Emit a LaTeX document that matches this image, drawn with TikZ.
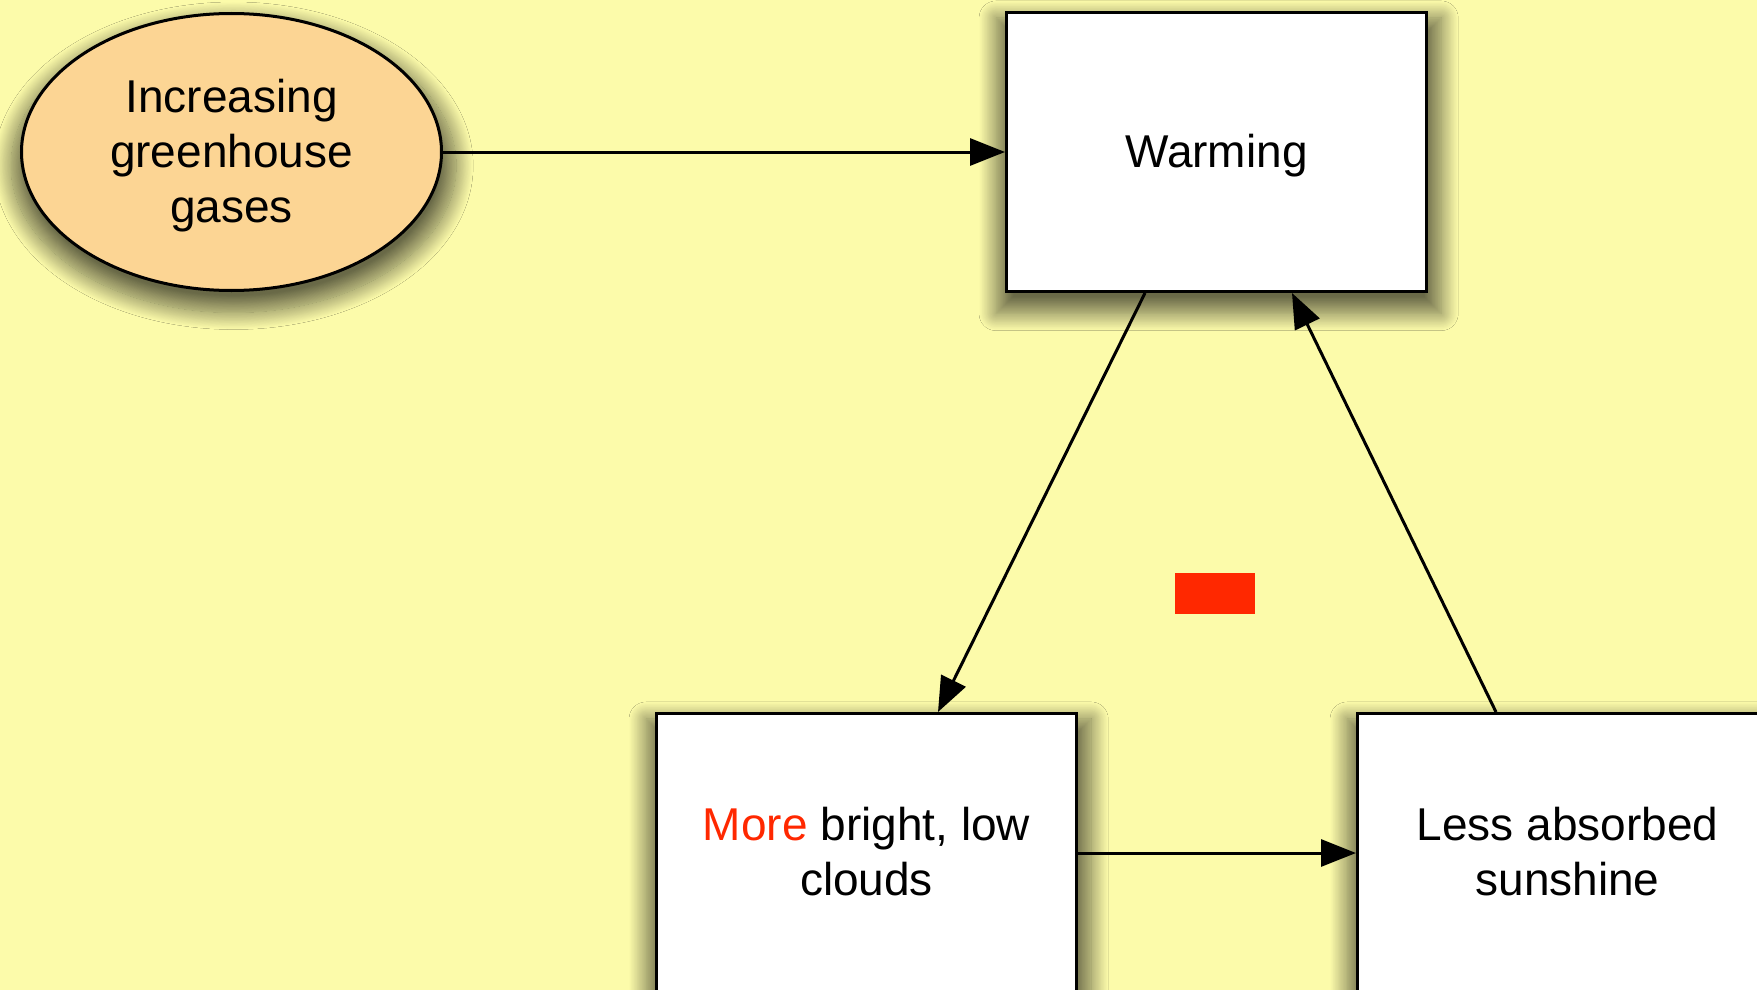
\documentclass[tikz,border=0pt]{standalone}
\usepackage{fontspec}
\setmainfont{Liberation Sans}
\usetikzlibrary{shapes.geometric,arrows.meta,shadows.blur,calc}
\definecolor{bgyellow}{RGB}{252,251,170}
\definecolor{peach}{RGB}{252,213,148}
\definecolor{minusred}{RGB}{255,40,0}
\begin{document}
\begin{tikzpicture}[x=1pt,y=-1pt,
  softshadow/.style={blur shadow={shadow xshift=2pt,shadow yshift=-13pt,shadow scale=1.06,shadow blur radius=16pt,shadow blur steps=24,shadow opacity=58}},
  stage/.style={draw=black,line width=3pt,fill=white,minimum width=420pt,minimum height=279pt,inner sep=0pt,align=center,text depth=3pt,font=\fontsize{46}{55}\selectfont,softshadow},
  source/.style={ellipse,draw=black,line width=3pt,fill=peach,minimum width=420pt,minimum height=277pt,inner sep=0pt,align=center,text depth=3pt,font=\fontsize{46}{55}\selectfont,softshadow},
  link/.style={line width=3pt,-{Triangle[length=35pt,width=27pt]}},
]
% page and background
\useasboundingbox (0,0) rectangle (1757,990);
\fill[bgyellow] (0,0) rectangle (1757,990);
\clip (0,0) rectangle (1757,990);

% nodes
\node[source] (gas) at (231.5,152) {Increasing\\greenhouse\\gases};
\node[stage] (warm) at (1216.5,152) {Warming};
\node[stage] (more) at (866.5,853) {{\color{minusred}More} bright, low\\clouds};
\node[stage] (less) at (1567.5,853) {Less absorbed\\sunshine};

% negative feedback sign
\node[fill=minusred,minimum width=80pt,minimum height=41pt,inner sep=0pt] (minus) at (1215,593.5) {};

% connectors
\draw[link] (gas.east) -- (warm.west);
\draw[link] ([xshift=140pt]warm.south west) -- ([xshift=283pt]more.north west);
\draw[link] (more.east) -- (less.west);
\draw[link] ([xshift=140pt]less.north west) -- ([xshift=287pt]warm.south west);
\end{tikzpicture}
\end{document}
